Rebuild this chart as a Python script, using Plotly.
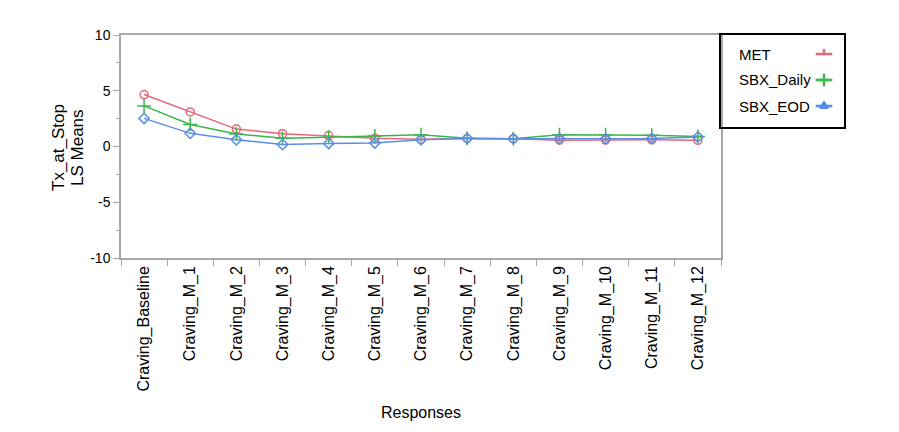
import plotly.graph_objects as go

categories = ["Craving_Baseline", "Craving_M_1", "Craving_M_2", "Craving_M_3", "Craving_M_4",
              "Craving_M_5", "Craving_M_6", "Craving_M_7", "Craving_M_8", "Craving_M_9",
              "Craving_M_10", "Craving_M_11", "Craving_M_12"]
met = [4.66, 3.1, 1.56, 1.15, 0.98, 0.75, 0.65, 0.72, 0.7, 0.57, 0.58, 0.6, 0.55]
sbx_daily = [3.64, 1.98, 1.12, 0.75, 0.83, 0.95, 1.05, 0.75, 0.7, 1.05, 1.05, 1.0, 0.9]
sbx_eod = [2.52, 1.18, 0.6, 0.18, 0.28, 0.32, 0.6, 0.72, 0.7, 0.72, 0.7, 0.72, 0.85]
series_names = ["MET", "SBX_Daily", "SBX_EOD"]
y_ticks = [-10, -5, 0, 5, 10]
y_tick_labels = ["-10", "-5", "0", "5", "10"]
y_minor_ticks = [-7.5, -2.5, 2.5, 7.5]
colors = ["#E4697A", "#3DB54A", "#5A8EE6"]
symbols = ["circle-open", "cross-thin-open", "diamond-open"]
legend_symbols = ["line-ns-open", "cross-thin-open", "triangle-up"]

FONT = "Liberation Sans, Arial, sans-serif"
W, H = 883, 416          # page body has an 8px margin
L, T = 113, 27
PW, PH = 600, 223
LEG_W, LEG_H = 123, 92
R = W - L - PW - LEG_W
B = H - T - PH

fig = go.Figure()
for name, vals, col, sym in zip(series_names, [met, sbx_daily, sbx_eod], colors, symbols):
    fig.add_trace(go.Scatter(
        x=categories, y=vals, name=name, mode="lines+markers",
        line=dict(color=col, width=1.5),
        marker=dict(symbol=sym, size=8 if sym != "cross-thin-open" else 10, color=col,
                    line=dict(color=col, width=1.5)),
        showlegend=False, xaxis="x", yaxis="y"))

# custom legend (symbols at right, as in reference)
rows_y = [0.793, 0.511, 0.228]
for name, col, sym, ry in zip(series_names, colors, legend_symbols, rows_y):
    fig.add_trace(go.Scatter(
        x=[0.77, 0.905], y=[ry, ry], mode="lines", line=dict(color=col, width=2.5),
        showlegend=False, hoverinfo="skip", xaxis="x2", yaxis="y2"))
    fig.add_trace(go.Scatter(
        x=[0.8375], y=[ry + (0.025 if sym == "line-ns-open" else 0)], mode="markers",
        marker=dict(symbol=sym, size=4 if sym == "line-ns-open" else (9 if sym == "cross-thin-open" else 7),
                    color=col, line=dict(color=col, width=2.5)),
        showlegend=False, hoverinfo="skip", xaxis="x2", yaxis="y2"))
    fig.add_annotation(x=0.13, y=ry, xref="x2", yref="y2", text=name, showarrow=False,
                       xanchor="left", yanchor="middle",
                       font=dict(family=FONT, size=15, color="black"))

# y-axis title, two rotated lines
pw_total = PW + LEG_W
for txt, px in [("Tx_at_Stop", 50), ("LS Means", 69)]:
    fig.add_annotation(x=(px - L) / pw_total, y=(T + PH - 140) / PH, xref="paper", yref="paper",
                       text=txt, textangle=-90, showarrow=False, xanchor="center",
                       yanchor="middle", font=dict(family=FONT, size=17, color="black"))

fig.update_layout(
    width=W, height=H,
    margin=dict(l=L, r=R, t=T, b=B),
    paper_bgcolor="white", plot_bgcolor="white",
    font=dict(family=FONT, color="black"),
    xaxis=dict(domain=[0, PW / pw_total], type="category", range=[-0.5, 12.5],
               showgrid=False, showline=True, linecolor="#A8A8A8", linewidth=1.5, mirror=True,
               ticks="outside", tickson="boundaries", ticklen=6, tickcolor="#A8A8A8",
               tickangle=-90, tickfont=dict(family=FONT, size=16),
               title=dict(text="Responses", font=dict(family=FONT, size=16), standoff=16),
               zeroline=False, automargin=False),
    yaxis=dict(domain=[0, 1], range=[-10, 10], tickvals=y_ticks, ticktext=y_tick_labels,
               showgrid=False, showline=True, linecolor="#A8A8A8", linewidth=1.5, mirror=True,
               ticks="outside", ticklen=6, tickcolor="#A8A8A8",
               minor=dict(tickvals=y_minor_ticks, ticks="outside", ticklen=3,
                          tickcolor="#A8A8A8", showgrid=False),
               tickfont=dict(family=FONT, size=14), zeroline=False, automargin=False),
    xaxis2=dict(domain=[PW / pw_total, 1], range=[0, 1], anchor="y2", showgrid=False,
                showticklabels=False, ticks="", showline=True, linecolor="black",
                linewidth=1.5, mirror=True, zeroline=False, fixedrange=True),
    yaxis2=dict(domain=[(PH - LEG_H) / PH, 1], range=[0, 1], anchor="x2", showgrid=False,
                showticklabels=False, ticks="", showline=True, linecolor="black",
                linewidth=1.5, mirror=True, zeroline=False, fixedrange=True),
)

fig.write_html("out.html")
